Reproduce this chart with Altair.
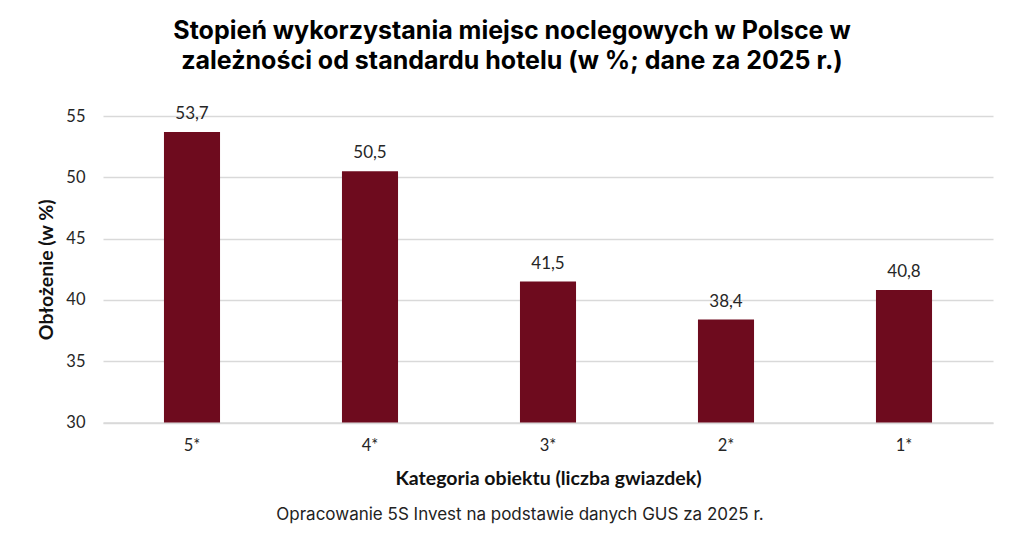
import altair as alt
import pandas as pd

categories = ["5*", "4*", "3*", "2*", "1*"]
values = [53.7, 50.5, 41.5, 38.4, 40.8]
y_ticks = [30, 35, 40, 45, 50, 55]

title_lines = ["Stopień wykorzystania miejsc noclegowych w Polsce w",
               "zależności od standardu hotelu (w %; dane za 2025 r.)"]
x_title = "Kategoria obiektu (liczba gwiazdek)"
y_title = "Obłożenie (w %)"
footnote = "Opracowanie 5S Invest na podstawie danych GUS za 2025 r."

df = pd.DataFrame({
    "cat": categories,
    "val": values,
    "label": [f"{v:.1f}".replace(".", ",") for v in values],
})

W, H = 890, 306.5
LABEL_FONT = "Lato"
TITLE_FONT = "Inter"

base = alt.Chart(df)

x_enc = alt.X("cat:N", sort=categories,
              scale=alt.Scale(paddingInner=0.685, paddingOuter=0.3425),
              axis=alt.Axis(title=x_title, labelAngle=0, labelFont=LABEL_FONT,
                            labelFontSize=16.5, labelColor="#262626", labelPadding=15,
                            ticks=False, domainColor="#d9d9d9", domainWidth=1.5,
                            titleFont=LABEL_FONT, titleFontSize=19.5, titleFontWeight="bold",
                            titleColor="#111111", titlePadding=15))
y_enc = alt.Y("val:Q", scale=alt.Scale(domain=[30, 55], nice=False, zero=False),
              axis=alt.Axis(title=y_title, values=y_ticks, labelFont=LABEL_FONT,
                            labelFontSize=16.5, labelColor="#262626", labelPadding=18,
                            ticks=False, domain=False, gridColor="#d9d9d9", gridWidth=1.5,
                            titleFont=LABEL_FONT, titleFontSize=19.5, titleFontWeight="bold",
                            titleColor="#111111", titleX=-47, titleY=H / 2))

bars = base.mark_bar(color="#6E0B1E", clip=True).encode(x=x_enc, y=y_enc)
labels = base.mark_text(font=LABEL_FONT, fontSize=17, color="#262626",
                        baseline="alphabetic", dy=-13).encode(
    x=alt.X("cat:N", sort=categories), y="val:Q", text="label:N")

foot = alt.Chart(pd.DataFrame({"t": [footnote]})).mark_text(
    font=TITLE_FONT, fontSize=17, color="#222222", align="center", baseline="alphabetic"
).encode(x=alt.value(417), y=alt.value(H + 97), text="t:N")

chart = alt.layer(bars, labels, foot).properties(
    width=W, height=H,
    title=alt.TitleParams(title_lines, font=TITLE_FONT, fontSize=25, fontWeight="bold",
                          color="#000000", anchor="middle", dx=-36, offset=31,
                          lineHeight=30),
    autosize=alt.AutoSizeParams(type="none"),
    padding={"left": 95, "top": 108, "right": 23, "bottom": 106},
).configure(background="white").configure_view(stroke=None)

chart.save("out.html", embed_options={"renderer": "svg", "actions": False})
